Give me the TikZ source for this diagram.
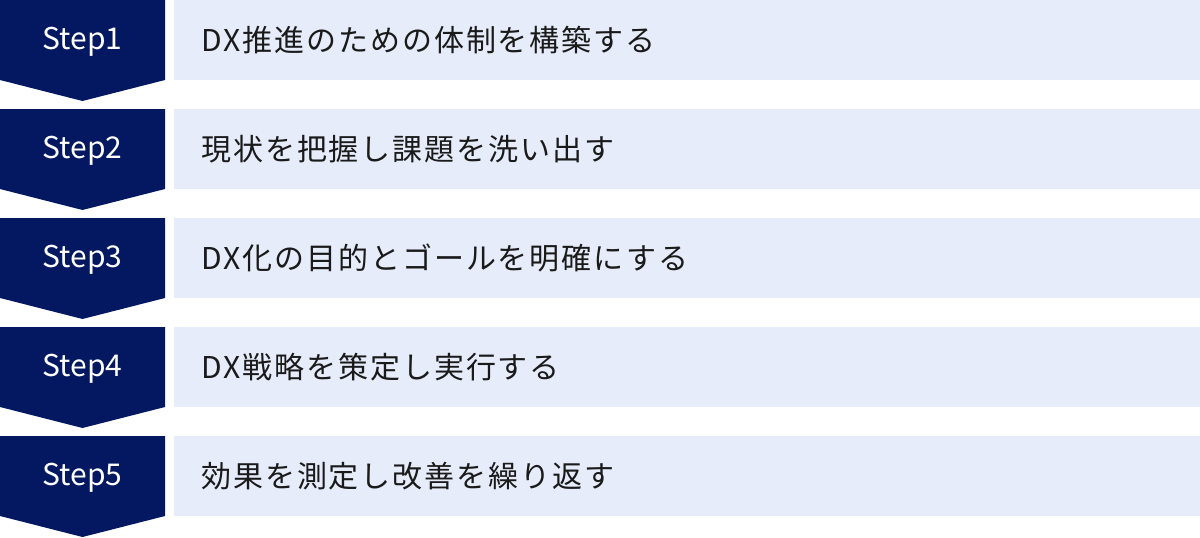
\documentclass[tikz,border=0pt]{standalone}
\usepackage{fontspec}
\setmainfont{Noto Sans CJK JP}
\newfontfamily\taskfont[LetterSpace=6.5]{Noto Sans CJK JP}
\definecolor{navy}{RGB}{4,24,97}
\definecolor{paleblue}{RGB}{230,236,250}
\definecolor{inkblack}{RGB}{26,26,26}
\begin{document}
\begin{tikzpicture}[x=1pt, y=-1pt]
  \tikzstyle{chevron} = [fill=navy]
  \tikzstyle{task_box} = [fill=paleblue]
  \tikzstyle{step_label} = [text=white, inner sep = 0pt, font=\fontsize{30}{36}\selectfont]
  \tikzstyle{task_label} = [text=inkblack, inner sep = 0pt, anchor=west, font=\taskfont\fontsize{30}{36}\selectfont]

  \useasboundingbox (0,0) rectangle (1200,538);

  % Draw steps and tasks
  \foreach \i/\task in {1/{DX推進のための体制を構築する},
                        2/{現状を把握し課題を洗い出す},
                        3/{DX化の目的とゴールを明確にする},
                        4/{DX戦略を策定し実行する},
                        5/{効果を測定し改善を繰り返す}}
    {
    \pgfmathsetmacro{\top}{109*(\i-1)}
    \fill[chevron] (0,\top) -- (165,\top) -- (165,\top+80)
      -- (82.5,\top+101) -- (0,\top+80) -- cycle;
    \fill[task_box] (174,\top) rectangle (1200,\top+80);
    \node[step_label] (step\i) at (82.5,\top+42) {Step\i};
    \node[task_label] (task\i) at (201,\top+40) {\task};
    }

\end{tikzpicture}
\end{document}
